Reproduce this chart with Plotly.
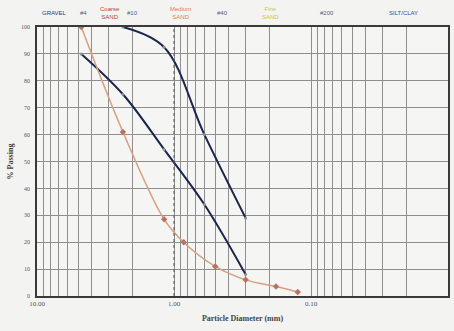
import plotly.graph_objects as go

# Sieve openings (mm) and percent passing
upper_size = [2.36, 1.18, 0.6, 0.3]
upper_pass = [100, 92.5, 60, 29]

lower_size = [4.75, 2.36, 1.18, 0.6, 0.3]
lower_pass = [90, 75, 54.5, 34, 8]

sample_size = [4.75, 2.36, 1.18, 0.85, 0.5, 0.3, 0.18, 0.125]
sample_pass = [100, 61, 28.5, 20, 11, 6, 3.5, 1.5]

# Axis ticks
x_decades = [10, 1, 0.1, 0.01]
x_decade_labels = ["10.00", "1.00", "0.10", "0.01"]
y_ticks = [0, 10, 20, 30, 40, 50, 60, 70, 80, 90, 100]

# Soil classification header
header_text = ["GRAVEL", "#4", "Coarse<br>SAND", "#10", "Medium<br>SAND", "#40",
               "Fine<br>SAND", "#200", "SILT/CLAY"]
header_color = ["#2a3a7a", "#555a80", "#c0403a", "#555a80", "#e07a50", "#555a80",
                "#c8c840", "#555a80", "#3a4a8a"]
header_xpix = [55, 84, 110, 133, 181, 223, 272, 328, 405]

W, H = 454, 331
L, R, T, B = 37, 4, 27, 35

# every log grid line 1..9 per decade
grid_vals, grid_text = [], []
for dec in [0.01, 0.1, 1]:
    for k in range(1, 10):
        v = round(k * dec, 4)
        grid_vals.append(v)
        grid_text.append("")
grid_vals.append(10)
grid_text.append("")
for v, t in zip(x_decades, x_decade_labels):
    grid_text[grid_vals.index(v)] = t

navy = "#1c2550"
fig = go.Figure()
fig.add_trace(go.Scatter(
    x=upper_size, y=upper_pass, mode="lines+markers", line_shape="spline",
    line=dict(color=navy, width=2), marker=dict(size=3, color="#8a968a"),
    showlegend=False))
fig.add_trace(go.Scatter(
    x=lower_size, y=lower_pass, mode="lines+markers", line_shape="spline",
    line=dict(color=navy, width=2), marker=dict(size=3, color="#8a968a"),
    showlegend=False))
fig.add_trace(go.Scatter(
    x=sample_size, y=sample_pass, mode="lines+markers", line_shape="spline",
    line=dict(color="#d99f80", width=1.5),
    marker=dict(size=5, symbol="diamond", color="#b87462"),
    showlegend=False))

fig.add_shape(type="line", xref="x", yref="paper", x0=1, x1=1, y0=0, y1=1,
              line=dict(color="#555555", width=1, dash="dot"))

pw = W - L - R
ph = H - T - B
for txt, col, xp in zip(header_text, header_color, header_xpix):
    fig.add_annotation(text=txt, xref="paper", yref="paper",
                       x=(xp - L) / pw, y=1 + (T - 13) / ph,
                       xanchor="center", yanchor="middle",
                       showarrow=False, font=dict(size=6, color=col,
                                                  family="Liberation Sans"))

fig.update_xaxes(
    type="log", range=[1, -2], tickvals=grid_vals, ticktext=grid_text,
    showgrid=True, gridcolor="#8e8e8e", gridwidth=1, ticks="",
    showline=True, linecolor="#3a3a3a", linewidth=1.5, mirror=True,
    tickfont=dict(size=7, color="#555555", family="Liberation Serif"),
    title=dict(text="<b>Particle Diameter (mm)</b>", standoff=8,
               font=dict(size=8, color="#444444", family="Liberation Serif")),
    zeroline=False)
fig.update_yaxes(
    range=[0, 100], tickvals=y_ticks, ticktext=[str(v) for v in y_ticks],
    showgrid=True, gridcolor="#8e8e8e", gridwidth=1, ticks="",
    showline=True, linecolor="#3a3a3a", linewidth=1.5, mirror=True,
    tickfont=dict(size=6, color="#555555", family="Liberation Serif"),
    ticklabelstandoff=4,
    title=dict(text="<b>% Passing</b>", standoff=6,
               font=dict(size=8, color="#444444", family="Liberation Serif")),
    zeroline=False)

fig.update_layout(
    width=W, height=H, margin=dict(l=L, r=R, t=T, b=B),
    paper_bgcolor="#f3f3f1", plot_bgcolor="#f5f5f3")

fig.write_html("out.html")
